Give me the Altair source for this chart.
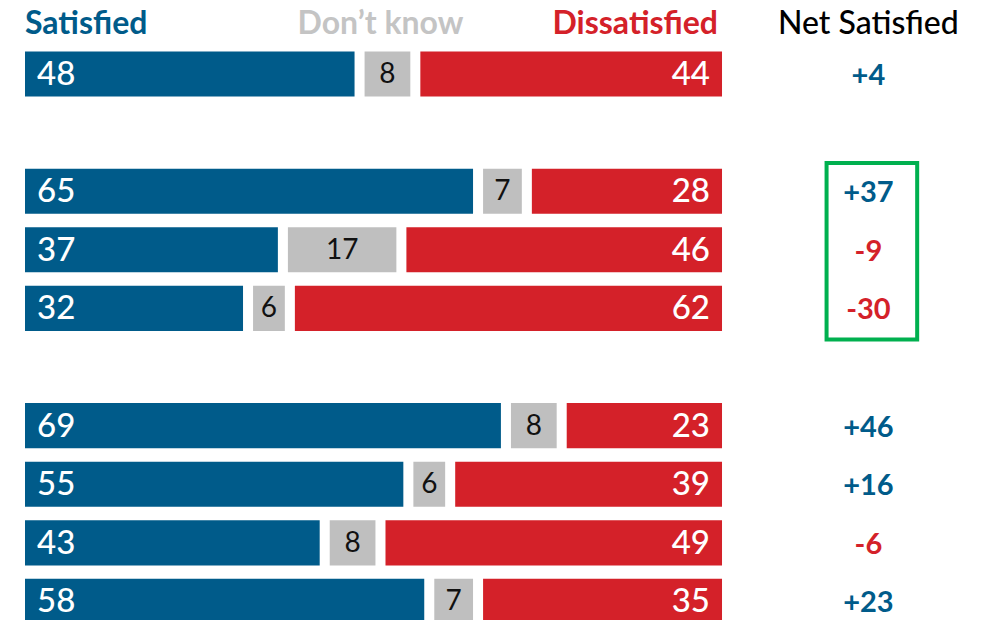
import altair as alt
import pandas as pd

# ---- data ----
row_slots = [0, 2, 3, 4, 6, 7, 8, 9]          # vertical slot of each bar (gaps = blank rows)
satisfied = [48, 65, 37, 32, 69, 55, 43, 58]
dont_know = [8, 7, 17, 6, 8, 6, 8, 7]
dissatisfied = [44, 28, 46, 62, 23, 39, 49, 35]
net_satisfied = [4, 37, -9, -30, 46, 16, -6, 23]
categories = ["Satisfied", "Don’t know", "Dissatisfied"]
net_header = "Net Satisfied"
highlight_rows = [2, 4]                        # first/last slot inside the green box

# ---- style / layout ----
BLUE, GREY, RED, GREEN = "#005b8a", "#bfbfbf", "#d42129", "#00b04f"
HEADER_COLORS = {"Satisfied": BLUE, "Don’t know": "#c4c4c4", "Dissatisfied": RED}
FONT = "Lato"
NET_X = 121
GAP = 0.72
HALF = 0.385

x_scale = alt.Scale(domain=[-2.439, 136.87], nice=False, zero=False)
y_scale = alt.Scale(domain=[-1.1263, 9.317], nice=False, zero=False, reverse=True)

# ---- tables ----
seg_rows = []
for slot, s, d, x in zip(row_slots, satisfied, dont_know, dissatisfied):
    start = 0
    for cat, v in zip(categories, [s, d, x]):
        end = start + v
        seg_rows.append({
            "slot": slot, "cat": cat, "value": v,
            "x0": start + (GAP if start > 0 else 0),
            "x1": end - (GAP if end < 100 else 0),
            "mid": (start + end) / 2,
            "y0": slot - HALF, "y1": slot + HALF,
            "col": {"Satisfied": BLUE, "Don’t know": GREY, "Dissatisfied": RED}[cat],
        })
        start = end
segs = pd.DataFrame(seg_rows)

net_df = pd.DataFrame({
    "slot": row_slots,
    "net": net_satisfied,
    "label": [("+" if n > 0 else "") + str(n) for n in net_satisfied],
    "col": [BLUE if n >= 0 else RED for n in net_satisfied],
    "xpos": [NET_X] * len(row_slots),
})

base = alt.Chart(segs)

bars = base.mark_rect().encode(
    x=alt.X("x0:Q", scale=x_scale, axis=None),
    x2="x1:Q",
    y=alt.Y("y0:Q", scale=y_scale, axis=None),
    y2="y1:Q",
    color=alt.Color("col:N", scale=None),
)

sat_text = base.transform_filter(alt.datum.cat == "Satisfied").mark_text(
    align="left", baseline="middle", dx=12, dy=1, font=FONT, fontSize=33, fontWeight=500, color="white"
).encode(x=alt.X("x0:Q", scale=x_scale), y=alt.Y("slot:Q", scale=y_scale), text="value:Q")

dk_text = base.transform_filter(alt.datum.cat == "Don’t know").mark_text(
    align="center", baseline="middle", dy=1, font=FONT, fontSize=28, color="#111111"
).encode(x=alt.X("mid:Q", scale=x_scale), y=alt.Y("slot:Q", scale=y_scale), text="value:Q")

dis_text = base.transform_filter(alt.datum.cat == "Dissatisfied").mark_text(
    align="right", baseline="middle", dx=-12, dy=1, font=FONT, fontSize=33, fontWeight=500, color="white"
).encode(x=alt.X("x1:Q", scale=x_scale), y=alt.Y("slot:Q", scale=y_scale), text="value:Q")

net_text = alt.Chart(net_df).mark_text(
    align="center", baseline="middle", dy=2, font=FONT, fontSize=29, fontWeight="bold"
).encode(
    x=alt.X("xpos:Q", scale=x_scale),
    y=alt.Y("slot:Q", scale=y_scale),
    text="label:N",
    color=alt.Color("col:N", scale=None),
)

# headers
HEADER_SLOT = -0.88
hdr = pd.DataFrame({
    "name": categories + [net_header],
    "x": [0, 51, 100, NET_X],
    "slot": [HEADER_SLOT] * 4,
    "col": [HEADER_COLORS[c] for c in categories] + ["#000000"],
})
hbase = alt.Chart(hdr)
def header_layer(name, align, dx=0, weight="bold"):
    return hbase.transform_filter(alt.datum.name == name).mark_text(
        align=align, baseline="middle", dx=dx, dy=2, font=FONT, fontSize=32, fontWeight=weight
    ).encode(
        x=alt.X("x:Q", scale=x_scale),
        y=alt.Y("slot:Q", scale=y_scale),
        text="name:N",
        color=alt.Color("col:N", scale=None),
    )

headers = (header_layer("Satisfied", "left")
           + header_layer("Don’t know", "center")
           + header_layer("Dissatisfied", "right", -4)
           + header_layer(net_header, "center", 0, 500))

box_df = pd.DataFrame({
    "x0": [NET_X - 6.0], "x1": [NET_X + 7.0],
    "y0": [highlight_rows[0] - 0.48], "y1": [highlight_rows[1] + 0.53],
})
box = alt.Chart(box_df).mark_rect(fillOpacity=0, stroke=GREEN, strokeWidth=4).encode(
    x=alt.X("x0:Q", scale=x_scale), x2="x1:Q",
    y=alt.Y("y0:Q", scale=y_scale), y2="y1:Q",
)

chart = alt.layer(bars, sat_text, dk_text, dis_text, net_text, headers, box).properties(
    width=971, height=612, autosize=alt.AutoSizeParams(type="none"), padding=0,
    background="white",
).configure_view(stroke=None)

chart.save("out.html", embed_options={"renderer": "svg", "actions": False})
